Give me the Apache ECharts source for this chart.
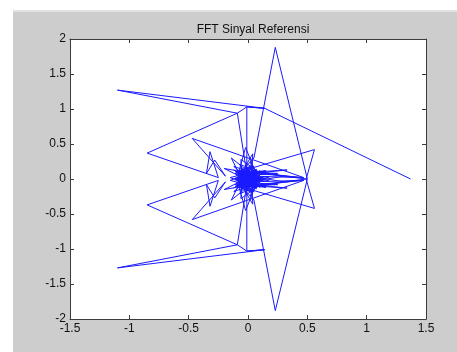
<!DOCTYPE html>
<html>
<head>
<meta charset="utf-8">
<script src="https://cdn.jsdelivr.net/npm/echarts@6/dist/echarts.min.js"></script>
<style>
  html, body { margin: 0; padding: 0; background: #fff; }
  #frame { position: absolute; left: 13px; top: 10px; width: 444px; height: 342px;
           background: #cdcdcd; border-top: 2px solid #e2e2e2; box-sizing: border-box; }
  #chart { position: absolute; left: 0; top: 0; width: 457px; height: 352px; }
</style>
</head>
<body>
<div id="frame"></div>
<div id="chart"></div>
<script>
// FFT result: real and imaginary parts, in plotting order
const re = [
  1.37, 0.14, -1.10, -0.09, -0.85, -0.25, -0.32, -0.35, -0.28, -0.19,
  -0.47, 0.47, 0.06, -0.07, 0.00, 0.56, 0.49, 0.04, 0.08, -0.06,
  -0.05, 0.30, 0.02, -0.08, -0.02, 0.09, -0.02, -0.14, 0.05, 0.44,
  -0.06, 0.07, -0.20, 0.00, 0.15, -0.09, 0.04, 0.03, -0.12, 0.08,
  0.25, -0.04, 0.01, -0.15, 0.06, -0.07, 0.18, -0.03,
  0.07, -0.08, 0.03, 0.10, -0.05, 0.02, -0.10, 0.09, -0.04, 0.05,
  -0.09, 0.11, -0.01, -0.06, 0.08, -0.11, 0.04, -0.03, 0.12, -0.07,
  0.01, -0.12, 0.10, -0.02, 0.06, -0.09, 0.03, 0.13, -0.05, 0.07,
  0.02, 0.09,
  -0.08, 0.04, -0.11, 0.33, -0.01, -0.03, -0.09, -0.01, 0.14, -0.01,
  -0.01, 0.10, -0.07, 0.05, 0.23, 0.50,
  0.23, 0.05, -0.07, 0.10, -0.01, -0.01, 0.14, -0.01, -0.09, -0.03,
  -0.01, 0.33, -0.11, 0.04, -0.08, 0.09, 0.02,
  0.07, -0.05, 0.13, 0.03, -0.09, 0.06, -0.02, 0.10, -0.12, 0.01,
  -0.07, 0.12, -0.03, 0.04, -0.11, 0.08, -0.06, -0.01, 0.11, -0.09,
  0.05, -0.04, 0.09, -0.10, 0.02, -0.05, 0.10, 0.03, -0.08, 0.07,
  -0.03, 0.18, -0.07,
  0.06, -0.15, 0.01, -0.04, 0.25, 0.08, -0.12, 0.03, 0.04, -0.09,
  0.15, 0.00, -0.20, 0.07, -0.06, 0.44, 0.05, -0.14, -0.02, 0.09,
  -0.02, -0.08, 0.02, 0.30, -0.05, -0.06, 0.08, 0.04, 0.49, 0.56,
  0.00, -0.07, 0.06, 0.47, -0.47, -0.19, -0.28, -0.35, -0.32, -0.25,
  -0.85, -0.09, -1.10, 0.14
];
const im = [
  0.00, 1.01, 1.27, 0.94, 0.37, 0.02, 0.39, 0.08, 0.27, 0.04,
  0.58, 0.02, 0.08, 0.03, 0.14, 0.42, 0.00, -0.10, 0.11, 0.28,
  -0.06, 0.04, 0.13, 0.09, 0.45, -0.02, -0.12, 0.30, 0.04, 0.02,
  0.12, -0.08, 0.15, 0.09, 0.12, -0.02, 0.36, -0.04, 0.18, 0.06,
  0.08, 0.10, -0.09, -0.02, 0.12, -0.10, 0.03, 0.02,
  0.13, -0.04, 0.16, -0.06, 0.14, -0.14, 0.06, 0.09, -0.11, 0.18,
  0.11, 0.01, -0.15, 0.17, -0.11, -0.01, 0.10, -0.07, 0.08, 0.21,
  -0.04, 0.13, -0.12, 0.19, -0.02, -0.08, 0.07, -0.03, 0.04, -0.14,
  0.25, 0.03,
  0.05, 0.20, 0.08, 0.13, 0.07, 0.30, 0.94, 1.03, 1.01, 1.03,
  0.02, -0.03, 0.08, 0.30, 1.88, 0.00,
  -1.88, -0.30, -0.08, 0.03, -0.02, -1.03, -1.01, -1.03, -0.94, -0.30,
  -0.07, -0.13, -0.08, -0.20, -0.05, -0.03, -0.25,
  0.14, -0.04, 0.03, -0.07, 0.08, 0.02, -0.19, 0.12, -0.13, 0.04,
  -0.21, -0.08, 0.07, -0.10, 0.01, 0.11, -0.17, 0.15, -0.01, -0.11,
  -0.18, 0.11, -0.09, -0.06, 0.14, -0.14, 0.06, -0.16, 0.04, -0.13,
  -0.02, -0.03, 0.10,
  -0.12, 0.02, 0.09, -0.10, -0.08, -0.06, -0.18, 0.04, -0.36, 0.02,
  -0.12, -0.09, -0.15, 0.08, -0.12, -0.02, -0.04, -0.30, 0.12, 0.02,
  -0.45, -0.09, -0.13, -0.04, 0.06, -0.28, -0.11, 0.10, 0.00, -0.42,
  -0.14, -0.03, -0.08, -0.02, -0.58, -0.04, -0.27, -0.08, -0.39, -0.02,
  -0.37, -0.94, -1.27, -1.01
];

const xTicks = ['-1.5', '-1', '-0.5', '0', '0.5', '1', '1.5'];
const yTicks = ['-2', '-1.5', '-1', '-0.5', '0', '0.5', '1', '1.5', '2'];
const title = 'FFT Sinyal Referensi';

const font = 'Liberation Sans, Arial, sans-serif';
const points = re.map((r, i) => [r, im[i]]);

const boxLine = { show: true, onZero: false, lineStyle: { color: '#3c3c3c', width: 1 } };
const tick = { show: true, inside: true, length: 4, lineStyle: { color: '#3c3c3c' } };

function xAxis(pos, labels) {
  return {
    type: 'value', position: pos, min: -1.5, max: 1.5, interval: 0.5,
    axisLine: boxLine, axisTick: tick, splitLine: { show: false },
    axisLabel: {
      show: labels, margin: 4, color: '#111', fontSize: 12, fontFamily: font,
      formatter: v => xTicks[Math.round((v + 1.5) / 0.5)]
    }
  };
}
function yAxis(pos, labels) {
  return {
    type: 'value', position: pos, min: -2, max: 2, interval: 0.5,
    axisLine: boxLine, axisTick: tick, splitLine: { show: false },
    axisLabel: {
      show: labels, margin: 4, color: '#111', fontSize: 12, fontFamily: font,
      formatter: v => yTicks[Math.round((v + 2) / 0.5)]
    }
  };
}

const chart = echarts.init(document.getElementById('chart'), null, { renderer: 'canvas' });
chart.setOption({
  animation: false,
  backgroundColor: 'transparent',
  title: {
    text: title, left: 248, top: 19, textAlign: 'center',
    textStyle: { fontSize: 12, fontWeight: 'normal', color: '#111', fontFamily: font }
  },
  grid: { left: 70, right: 31, top: 39, bottom: 33, show: true, backgroundColor: '#fff', borderWidth: 0 },
  xAxis: [xAxis('bottom', true), xAxis('top', false)],
  yAxis: [yAxis('left', true), yAxis('right', false)],
  series: [{
    type: 'line',
    data: points,
    showSymbol: false,
    lineStyle: { color: '#1a1aff', width: 1 },
    silent: true
  }]
});
</script>
</body>
</html>
